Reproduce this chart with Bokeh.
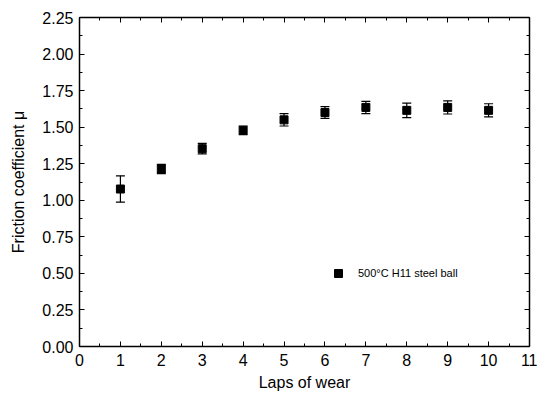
from bokeh.plotting import figure
from bokeh.models import (ColumnDataSource, Range1d, LinearAxis, FixedTicker,
                          Whisker, TeeHead, Legend, LegendItem, CustomJSTickFormatter)
from bokeh.embed import file_html
from bokeh.resources import INLINE

# Friction coefficient vs. number of wear laps
laps = [1, 2, 3, 4, 5, 6, 7, 8, 9, 10]
mu = [1.077, 1.214, 1.353, 1.478, 1.550, 1.600, 1.635, 1.615, 1.635, 1.615]
mu_err = [0.090, 0.032, 0.036, 0.030, 0.042, 0.040, 0.042, 0.050, 0.045, 0.045]
series_label = "500°C H11 steel ball"

x_ticks = list(range(0, 12))
y_ticks = [0.0, 0.25, 0.5, 0.75, 1.0, 1.25, 1.5, 1.75, 2.0, 2.25]

FONT = "Liberation Sans"

src = ColumnDataSource(dict(
    x=laps, y=mu,
    upper=[m + e for m, e in zip(mu, mu_err)],
    lower=[m - e for m, e in zip(mu, mu_err)],
))

p = figure(width=537, height=404, output_backend="svg", toolbar_location=None,
           x_range=Range1d(0, 11), y_range=Range1d(0, 2.25),
           x_axis_location=None, y_axis_location=None)
p.min_border_left = 79
p.min_border_right = 8
p.min_border_top = 17
p.min_border_bottom = 58
p.outline_line_color = None
p.xgrid.visible = False
p.ygrid.visible = False
p.background_fill_color = "white"
p.border_fill_color = "white"

x_minor = [i * 0.5 for i in range(0, 23)]
y_minor = [i * 0.125 for i in range(0, 19)]


def style_axis(ax, labels=True):
    ax.axis_line_color = "black"
    ax.axis_line_width = 1.5
    ax.major_tick_in = 5
    ax.major_tick_out = 0
    ax.minor_tick_in = 3
    ax.minor_tick_out = 0
    ax.major_tick_line_color = "black"
    ax.minor_tick_line_color = "black"
    ax.major_tick_line_width = 1
    ax.minor_tick_line_width = 1
    ax.major_label_text_font = FONT
    ax.major_label_text_font_size = "16px"
    ax.major_label_text_color = "black"
    ax.axis_label_text_font = FONT
    ax.axis_label_text_font_size = "16px"
    ax.axis_label_text_font_style = "normal"
    ax.axis_label_text_color = "black"
    if not labels:
        ax.formatter = CustomJSTickFormatter(code="return '';")
        ax.major_label_standoff = 0


xb = LinearAxis(ticker=FixedTicker(ticks=x_ticks, minor_ticks=x_minor),
                axis_label="Laps of wear")
style_axis(xb)
xb.major_label_standoff = 7
xb.axis_label_standoff = 5
p.add_layout(xb, "below")

xt = LinearAxis(ticker=FixedTicker(ticks=x_ticks, minor_ticks=x_minor))
style_axis(xt, labels=False)
p.add_layout(xt, "above")

yl = LinearAxis(ticker=FixedTicker(ticks=y_ticks, minor_ticks=y_minor),
                axis_label="Friction coefficient μ")
style_axis(yl)
yl.formatter = CustomJSTickFormatter(code="return tick.toFixed(2);")
yl.major_label_standoff = 6
yl.axis_label_standoff = 12
p.add_layout(yl, "left")

yr = LinearAxis(ticker=FixedTicker(ticks=y_ticks, minor_ticks=y_minor))
style_axis(yr, labels=False)
p.add_layout(yr, "right")

# error bars
wh = Whisker(source=src, base="x", upper="upper", lower="lower",
             line_color="black", line_width=1.2,
             upper_head=TeeHead(size=9, line_color="black", line_width=1.2),
             lower_head=TeeHead(size=9, line_color="black", line_width=1.2))
p.add_layout(wh)

pts = p.scatter("x", "y", source=src, marker="square", size=8,
                fill_color="black", line_color="black")

leg = Legend(items=[LegendItem(label=series_label, renderers=[pts])],
             location=(249, 63), border_line_color=None,
             background_fill_alpha=0, padding=0, margin=0,
             glyph_width=20, glyph_height=20, label_standoff=10,
             label_text_font=FONT, label_text_font_size="11px",
             label_text_color="black")
p.add_layout(leg, "center")

open("out.html", "w").write(file_html(p, INLINE))
